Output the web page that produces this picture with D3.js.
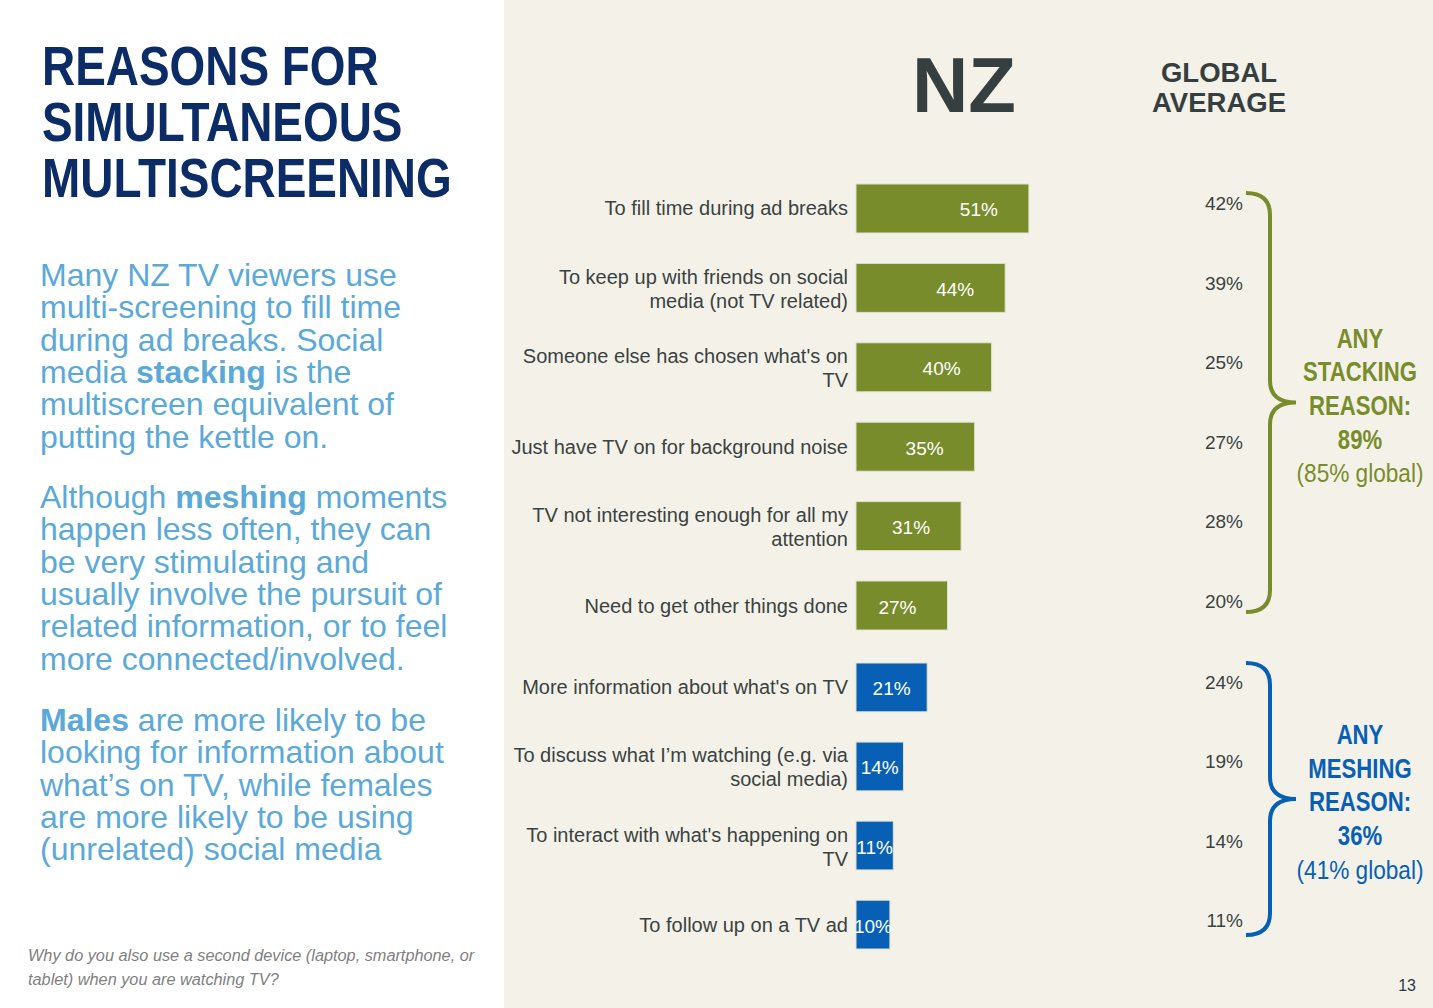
<!DOCTYPE html>
<html>
<head>
<meta charset="utf-8">
<script src="https://cdn.jsdelivr.net/npm/d3@7"></script>
<style>
  html, body { margin: 0; padding: 0; background: #fff; }
  svg { display: block; font-family: "Liberation Sans", Arial, sans-serif; }
</style>
</head>
<body>
<svg id="chart" width="1433" height="1008"></svg>
<script>
"use strict";

// stacking reasons (green) and meshing reasons (blue)
var stackLabels = [
  "To fill time during ad breaks",
  "To keep up with friends on social\nmedia (not TV related)",
  "Someone else has chosen what's on\nTV",
  "Just have TV on for background noise",
  "TV not interesting enough for all my\nattention",
  "Need to get other things done"
];
var stackNZ = [51, 44, 40, 35, 31, 27];
var stackGlobal = [42, 39, 25, 27, 28, 20];

var meshLabels = [
  "More information about what's on TV",
  "To discuss what I\u2019m watching (e.g. via\nsocial media)",
  "To interact with what's happening on\nTV",
  "To follow up on a TV ad"
];
var meshNZ = [21, 14, 11, 10];
var meshGlobal = [24, 19, 14, 11];

var stackSummary = ["ANY", "STACKING", "REASON:", "89%"];
var stackSub = "(85% global)";
var meshSummary = ["ANY", "MESHING", "REASON:", "36%"];
var meshSub = "(41% global)";

var titleLines = ["REASONS FOR", "SIMULTANEOUS", "MULTISCREENING"];
var bodyParas = [
  ["Many NZ TV viewers use", "multi-screening to fill time", "during ad breaks. Social",
   "media **stacking** is the", "multiscreen equivalent of", "putting the kettle on."],
  ["Although **meshing** moments", "happen less often, they can", "be very stimulating and",
   "usually involve the pursuit of", "related information, or to feel", "more connected/involved."],
  ["**Males** are more likely to be", "looking for information about", "what\u2019s on TV, while females",
   "are more likely to be using", "(unrelated) social media"]
];
var footnote = ["Why do you also use a second device (laptop, smartphone, or",
                "tablet) when you are watching TV?"];

var GREEN = "#798c2b", BLUE = "#0760b6", INK = "#3a4242";

var svg = d3.select("#chart");

// right panel background
svg.append("rect").attr("x", 504).attr("y", 0).attr("width", 929).attr("height", 1008)
  .attr("fill", "#f4f2e8");

// ---- left column text ----
svg.append("g").selectAll("text")
  .data(titleLines).enter().append("text")
  .attr("transform", function(d, i) { return "translate(42," + (85 + i * 56) + ") scale(0.82,1)"; })
  .attr("font-size", 56).attr("font-weight", "bold").attr("fill", "#0c2c68")
  .text(function(d) { return d; });

var paraTop = [286, 508, 731];
bodyParas.forEach(function(lines, p) {
  var g = svg.append("g").attr("font-size", 32).attr("fill", "#5aa9d9");
  lines.forEach(function(line, i) {
    // "**word**" marks bold words
    var t = g.append("text").attr("x", 40).attr("y", paraTop[p] + i * 32.3);
    line.split("**").forEach(function(part, k) {
      if (!part) return;
      var ts = t.append("tspan").text(part);
      if (k % 2 === 1) ts.attr("font-weight", "bold");
    });
  });
});

svg.append("g").selectAll("text")
  .data(footnote).enter().append("text")
  .attr("x", 28).attr("y", function(d, i) { return 961 + i * 24; })
  .attr("font-size", 16.3).attr("font-style", "italic").attr("fill", "#7f7f7f")
  .text(function(d) { return d; });

// ---- headers ----
svg.append("text").attr("x", 964).attr("y", 112).attr("text-anchor", "middle")
  .attr("font-size", 78).attr("font-weight", "bold").attr("fill", "#363f3f").text("NZ");
svg.append("g").selectAll("text")
  .data(["GLOBAL", "AVERAGE"]).enter().append("text")
  .attr("x", 1219).attr("y", function(d, i) { return 82 + i * 30; })
  .attr("text-anchor", "middle").attr("font-size", 27.5).attr("font-weight", "bold")
  .attr("fill", "#363f3f").text(function(d) { return d; });

// ---- bars ----
var x = d3.scaleLinear().domain([0, 100]).range([856, 1195]);

function drawGroup(labels, nz, glob, color, y0, y1, centered, summary, sub) {
  var y = d3.scaleBand().domain(d3.range(labels.length)).range([y0, y1])
    .paddingInner(0.383).paddingOuter(0);
  var g = svg.append("g");
  var rows = g.selectAll("g.row").data(labels).enter().append("g").attr("class", "row");

  rows.append("rect")
    .attr("x", x(0)).attr("y", function(d, i) { return y(i); })
    .attr("width", function(d, i) { return x(nz[i]) - x(0); })
    .attr("height", y.bandwidth())
    .attr("fill", color).attr("stroke", "#dfe2cc").attr("stroke-width", 1);

  rows.append("text")
    .attr("x", function(d, i) { return centered ? (x(0) + x(nz[i])) / 2 : x(nz[i]) - 31; })
    .attr("y", function(d, i) { return y(i) + y.bandwidth() / 2 + 8; })
    .attr("text-anchor", centered ? "middle" : "end")
    .attr("font-size", 19).attr("fill", "#fff")
    .text(function(d, i) { return nz[i] + "%"; });

  rows.each(function(d, i) {
    var lines = d.split("\n");
    var cy = y(i) + y.bandwidth() / 2;
    var t = d3.select(this).append("text")
      .attr("text-anchor", "end").attr("font-size", 20).attr("fill", INK);
    lines.forEach(function(line, k) {
      t.append("tspan").attr("x", 848)
        .attr("y", cy + 7 + (k - (lines.length - 1) / 2) * 24 + (lines.length > 1 ? 1 : 0))
        .text(line);
    });
  });

  rows.append("text")
    .attr("x", 1243).attr("y", function(d, i) { return y(i) + y.bandwidth() / 2 + 2; })
    .attr("text-anchor", "end").attr("font-size", 19).attr("fill", INK)
    .text(function(d, i) { return glob[i] + "%"; });

  // brace
  var top = y(0) + (centered ? 0 : 9);
  var bot = y(labels.length - 1) + y.bandwidth() - (centered ? 14 : 18);
  var mid = (top + bot) / 2;
  var x0 = 1246, x1 = 1270, x2 = 1296, r = 22;
  var p = d3.path();
  p.moveTo(x0, top);
  p.quadraticCurveTo(x1, top, x1, top + r);
  p.lineTo(x1, mid - r);
  p.quadraticCurveTo(x1, mid, x2, mid);
  p.quadraticCurveTo(x1, mid, x1, mid + r);
  p.lineTo(x1, bot - r);
  p.quadraticCurveTo(x1, bot, x0, bot);
  g.append("path").attr("d", p.toString()).attr("fill", "none")
    .attr("stroke", color).attr("stroke-width", 4);

  // summary
  var sy = mid - 55;
  summary.forEach(function(s, k) {
    g.append("text")
      .attr("transform", "translate(1360," + (sy + k * 33.7) + ") scale(0.82,1)")
      .attr("text-anchor", "middle").attr("font-size", 27).attr("font-weight", "bold")
      .attr("fill", color).text(s);
  });
  g.append("text")
    .attr("transform", "translate(1360," + (sy + 4 * 33.7) + ") scale(0.87,1)")
    .attr("text-anchor", "middle").attr("font-size", 26).attr("fill", color).text(sub);
}

drawGroup(stackLabels, stackNZ, stackGlobal, GREEN, 184, 630, false, stackSummary, stackSub);
drawGroup(meshLabels, meshNZ, meshGlobal, BLUE, 663, 949, true, meshSummary, meshSub);

svg.append("text").attr("x", 1416).attr("y", 991).attr("text-anchor", "end")
  .attr("font-size", 16).attr("fill", "#2d3848").text("13");
</script>
</body>
</html>
